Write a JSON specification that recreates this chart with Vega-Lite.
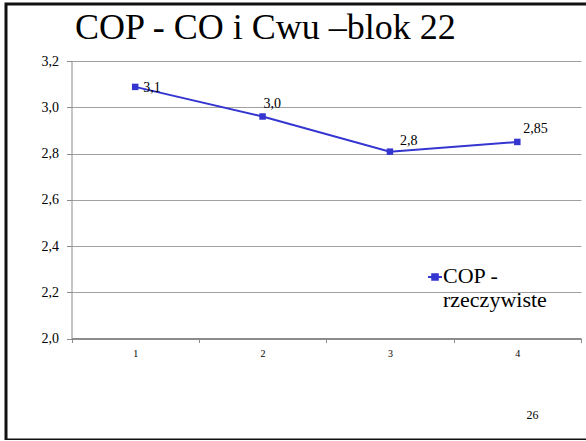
{
  "$schema": "https://vega.github.io/schema/vega-lite/v6.json",
  "width": 586,
  "height": 436,
  "autosize": "none",
  "padding": {"left": 6, "top": 4, "right": 0, "bottom": 0},
  "background": "white",
  "title": {
    "text": "COP - CO i Cwu –blok 22",
    "anchor": "start",
    "frame": "group",
    "font": "Liberation Serif",
    "fontSize": 36,
    "fontWeight": "normal",
    "color": "#000",
    "baseline": "alphabetic",
    "offset": 0,
    "dx": 69,
    "dy": 71
  },
  "data": {
    "values": [
      {"x": "1", "cop": 3.088, "label": "3,1", "series": "COP - rzeczywiste"},
      {"x": "2", "cop": 2.96, "label": "3,0", "series": "COP - rzeczywiste"},
      {"x": "3", "cop": 2.808, "label": "2,8", "series": "COP - rzeczywiste"},
      {"x": "4", "cop": 2.85, "label": "2,85", "series": "COP - rzeczywiste"}
    ]
  },
  "encoding": {
    "x": {
      "field": "x",
      "type": "ordinal",
      "scale": {"type": "band", "range": [65.5, 575], "paddingInner": 0, "paddingOuter": 0},
      "axis": {
        "offset": -101.5,
        "tickBand": "extent",
        "labelAngle": 0,
        "domainColor": "#8c8c8c",
        "domainWidth": 2,
        "tickColor": "#8c8c8c",
        "tickSize": 4,
        "labelFont": "Liberation Serif",
        "labelFontSize": 10,
        "labelColor": "#000",
        "labelPadding": 6,
        "grid": false,
        "title": "26",
        "titleX": 520,
        "titleY": 76,
        "titleAlign": "left",
        "titleBaseline": "middle",
        "titleFont": "Liberation Serif",
        "titleFontSize": 12,
        "titleFontWeight": "normal",
        "titleColor": "#000"
      }
    },
    "y": {
      "field": "cop",
      "type": "quantitative",
      "scale": {"domain": [2, 3.2], "range": [334.5, 57], "nice": false, "zero": false},
      "axis": {
        "values": [2, 2.2, 2.4, 2.6, 2.8, 3, 3.2],
        "labelExpr": "replace(format(datum.value, '.1f'), '.', ',')",
        "title": null,
        "offset": -65.5,
        "domainColor": "#8c8c8c",
        "tickColor": "#8c8c8c",
        "tickSize": 5,
        "grid": true,
        "gridColor": "#a0a0a0",
        "labelFont": "Liberation Serif",
        "labelFontSize": 14,
        "labelColor": "#000",
        "labelPadding": 8
      }
    }
  },
  "layer": [
    {
      "mark": {"type": "line", "strokeWidth": 2},
      "encoding": {
        "color": {
          "field": "series",
          "type": "nominal",
          "scale": {"range": ["#3535D0"]},
          "legend": {
            "orient": "none",
            "legendX": 418,
            "legendY": 262,
            "title": null,
            "symbolType": "M-1,0H1M-0.4,-0.4H0.4V0.4H-0.4Z",
            "symbolSize": 196,
            "symbolStrokeWidth": 2,
            "labelFont": "Liberation Serif",
            "labelFontSize": 22,
            "labelColor": "#000",
            "labelOffset": -3,
            "labelLimit": 300,
            "labelExpr": "['COP -', 'rzeczywiste']",
            "labelBaseline": "alphabetic",
            "encode": {
              "symbols": {"update": {"fill": {"value": "#3535D0"}, "stroke": {"value": "#3535D0"}}},
              "labels": {"update": {"dy": {"value": 6}}}
            }
          }
        }
      }
    },
    {
      "mark": {"type": "square", "size": 42, "color": "#3535D0", "opacity": 1, "filled": true}
    },
    {
      "transform": [{"filter": "datum.x == '1'"}],
      "mark": {"type": "text", "align": "left", "baseline": "middle", "dx": 8, "dy": 1, "font": "Liberation Serif", "fontSize": 14, "color": "#000"},
      "encoding": {"text": {"field": "label"}}
    },
    {
      "transform": [{"filter": "datum.x == '2'"}],
      "mark": {"type": "text", "align": "left", "baseline": "middle", "dx": 1, "dy": -13, "font": "Liberation Serif", "fontSize": 14, "color": "#000"},
      "encoding": {"text": {"field": "label"}}
    },
    {
      "transform": [{"filter": "datum.x == '3'"}],
      "mark": {"type": "text", "align": "left", "baseline": "middle", "dx": 10, "dy": -11, "font": "Liberation Serif", "fontSize": 14, "color": "#000"},
      "encoding": {"text": {"field": "label"}}
    },
    {
      "transform": [{"filter": "datum.x == '4'"}],
      "mark": {"type": "text", "align": "left", "baseline": "middle", "dx": 6, "dy": -13, "font": "Liberation Serif", "fontSize": 14, "color": "#000"},
      "encoding": {"text": {"field": "label"}}
    }
  ],
  "config": {
    "view": {"stroke": "#111", "strokeWidth": 3}
  }
}
